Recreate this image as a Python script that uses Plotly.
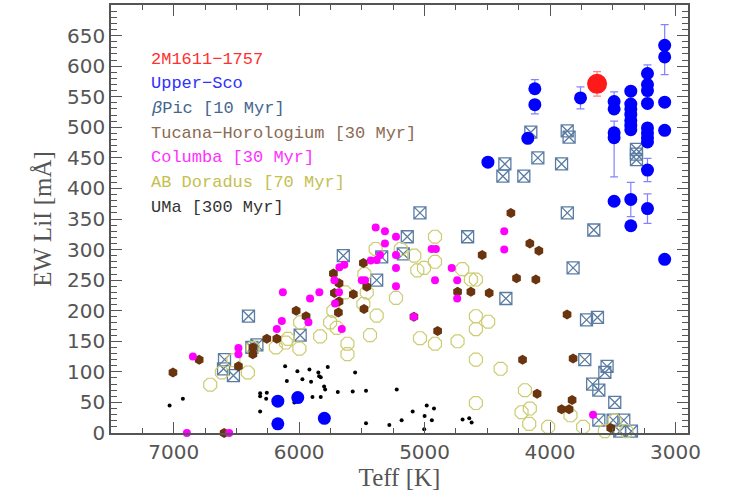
import plotly.graph_objects as go

# ---------------- data ----------------
target_teff = [3625]
target_ew = [571]
target_err = [20]

usco_teff = [3757, 3489, 3489, 3489, 3489, 3489,
             3356, 3356, 3356, 3356, 3356, 3356, 3356, 3356, 3356,
             3223, 3223, 3223, 3223, 3223, 3223, 3223, 3223, 3223, 3223,
             3086, 3086, 3086, 3086, 3086,
             6170, 6011, 6170, 5799,
             4495, 4177, 4121, 4121]
usco_ew = [548, 542, 530, 491, 483, 379,
           559, 538, 530, 521, 511, 503, 496, 382, 339,
           588, 570, 560, 539, 499, 491, 483, 476, 430, 367,
           634, 615, 541, 495, 284,
           52, 58, 15, 24,
           443, 482, 563, 537]
usco_errp = [18, 16, 0, 0, 27, 0,
             0, 0, 0, 0, 0, 0, 0, 28, 0,
             14, 0, 0, 0, 0, 0, 0, 0, 19, 24,
             34, 0, 0, 0, 0,
             0, 0, 0, 0,
             0, 0, 15, 0]
usco_errm = [18, 16, 0, 0, 64, 0,
             0, 0, 0, 0, 0, 0, 0, 28, 0,
             14, 0, 0, 0, 0, 0, 0, 0, 19, 24,
             0, 29, 0, 0, 0,
             0, 0, 0, 0,
             0, 0, 0, 15]

bpic_teff = [6404, 6337, 6377, 5992, 6595, 6603, 6524, 5648, 5037, 5138, 5342, 5170,
             5382, 4657, 4352, 3862, 3816, 3709, 3723, 3660, 3651, 3622, 3545, 3563,
             3611, 3484, 3611, 3497, 3412, 3351, 3444, 3863, 3848, 3311, 3311, 3311,
             3908, 4153, 4360, 4097, 4376, 4209]
bpic_ew = [191, 144, 140, 160, 120, 105, 94, 290, 360, 321, 288, 293,
           250, 321, 220, 360, 270, 185, 120, 80, 332, 189, 109, 99,
           70, 50, 21, 21, 21, 3, 3, 494, 484, 464, 456, 447,
           440, 492, 440, 450, 420, 420]

tuc_teff = [7006, 6797, 6484, 6369, 6369, 6258, 6178, 6024, 5945, 5727, 5682, 5719,
            5682, 5687, 6598, 4312, 4161, 4089, 4541, 4267, 4113, 4737, 4631, 4485,
            5488, 5568, 5461, 5483, 5085, 4896, 3864, 4219, 3816, 4103, 3824, 3908,
            3848, 3516]
tuc_ew = [99, 120, 109, 140, 129, 154, 154, 200, 191, 261, 245, 229,
          215, 197, 0, 360, 310, 298, 291, 253, 251, 231, 231, 229,
          278, 227, 239, 203, 190, 167, 194, 120, 122, 64, 54, 39,
          39, 8]

col_teff = [6130, 5913, 5839, 6138, 6178, 5926, 5660, 6484, 6484, 6847, 6895, 6558,
            5679, 5640, 5719, 5682, 5714, 5390, 5316, 5316, 5228, 4944, 4910, 4365,
            4365, 5355, 5429, 5382, 5228, 5228, 5501, 5475, 5228, 4917, 4784, 4740,
            4740, 5085, 3657]
col_ew = [230, 220, 230, 183, 170, 181, 170, 139, 129, 125, 0, 0,
          271, 275, 250, 230, 212, 336, 330, 310, 321, 301, 301, 330,
          300, 291, 282, 283, 291, 270, 250, 250, 240, 250, 270, 250,
          220, 190, 30]

abd_teff = [6709, 6616, 6524, 6409, 6369, 6186, 6106, 6090, 5998, 5992, 5833, 5753,
            5727, 5634, 5615, 5615, 5700, 4917, 4917, 5082, 5058, 5005, 5190, 5390,
            5480, 5461, 5488, 5382, 5228, 5435, 5037, 4917, 4737, 4700, 4631, 4591,
            4591, 4493, 4591, 4591, 4394, 4591, 4200, 4161, 4227, 4166, 4015, 3837,
            3736, 3484, 3563, 3391]
abd_ew = [79, 99, 119, 99, 139, 140, 148, 154, 138, 181, 158, 181,
          200, 230, 146, 129, 172, 321, 280, 290, 266, 270, 301, 301,
          260, 230, 211, 192, 221, 160, 155, 146, 150, 268, 251, 251,
          191, 182, 170, 120, 105, 49, 70, 40, 34, 15, 10, 29,
          10, 20, 3, 3]

uma_teff = [7033, 6927, 6112, 6014, 5918, 5847, 5772, 6098, 5974, 5905, 5841, 5828,
            5801, 5793, 5692, 6311, 6258, 6311, 6263, 6038, 5894, 5828, 6311, 5554,
            5573, 5467, 5222, 5467, 5281, 5183, 5095, 4983, 4925, 5000, 4942, 5003,
            4697, 4644, 4625]
uma_ew = [45, 56, 109, 101, 104, 99, 108, 85, 88, 84, 93, 91,
          76, 71, 67, 65, 66, 60, 56, 50, 59, 59, 35, 99,
          68, 69, 71, 16, 13, 21, 35, 45, 40, 28, 21, 6,
          22, 24, 17]

legend_labels = ["2M1611\u22121757", "Upper\u2212Sco", "<i>\u03b2</i>Pic [10 Myr]",
                 "Tucana\u2212Horologium [30 Myr]", "Columba [30 Myr]",
                 "AB Doradus [70 Myr]", "UMa [300 Myr]"]
legend_colors = ["#ff3030", "#3030ff", "#44668e", "#8a6a52", "#ff30ff", "#c4c050", "#333333"]

x_range = [7500, 2900]
y_range = [0, 700]
y_ticks = list(range(0, 700, 50))
x_ticks = [7000, 6000, 5000, 4000, 3000]

# ---------------- figure ----------------
fig = go.Figure()

fig.add_trace(go.Scatter(x=uma_teff, y=uma_ew, mode="markers", cliponaxis=False,
                         marker=dict(symbol="circle", size=4, color="black")))
fig.add_trace(go.Scatter(x=bpic_teff, y=bpic_ew, mode="markers", cliponaxis=False,
                         marker=dict(symbol="square-x-open", size=12, color="#5a7ca2",
                                     line=dict(color="#5a7ca2", width=1.3))))
fig.add_trace(go.Scatter(x=abd_teff, y=abd_ew, mode="markers", cliponaxis=False,
                         marker=dict(symbol="octagon-open", size=14, color="#cccc70",
                                     line=dict(color="#cccc70", width=1.2))))
fig.add_trace(go.Scatter(x=tuc_teff, y=tuc_ew, mode="markers", cliponaxis=False,
                         marker=dict(symbol="hexagon", size=10, color="#6a340e",
                                     line=dict(width=0))))
fig.add_trace(go.Scatter(x=col_teff, y=col_ew, mode="markers", cliponaxis=False,
                         marker=dict(symbol="circle", size=8, color="#ff00ff",
                                     line=dict(width=0))))
fig.add_trace(go.Scatter(x=usco_teff, y=usco_ew, mode="markers", cliponaxis=False,
                         error_y=dict(type="data", symmetric=False, array=usco_errp,
                                      arrayminus=usco_errm, color="rgba(90,90,255,0.75)",
                                      thickness=1.2, width=4),
                         marker=dict(symbol="circle", size=13, color="#0000ff",
                                     line=dict(width=0))))
fig.add_trace(go.Scatter(x=target_teff, y=target_ew, mode="markers", cliponaxis=False,
                         error_y=dict(type="data", array=target_err,
                                      color="rgba(255,90,90,0.75)", thickness=1.2, width=4),
                         marker=dict(symbol="circle", size=20, color="#ff1a1a",
                                     line=dict(width=0))))

for i, (lab, col) in enumerate(zip(legend_labels, legend_colors)):
    fig.add_annotation(text=lab, xref="paper", yref="paper", x=0.066,
                       y=0.873 - i * 0.0575, xanchor="left", yanchor="middle",
                       showarrow=False,
                       font=dict(family="Liberation Mono", size=17, color=col))

axis_common = dict(showline=True, linecolor="#555555", linewidth=1.5, mirror="allticks",
                   ticks="inside", tickcolor="#555555", ticklen=11, tickwidth=1.2,
                   showgrid=False, zeroline=False,
                   tickfont=dict(family="DejaVu Sans", size=20, color="#555555"),
                   title_font=dict(family="Liberation Serif", size=25, color="#555555"))

fig.update_xaxes(range=x_range, tickmode="array", tickvals=x_ticks,
                 title_text="Teff [K]", title_standoff=6,
                 minor=dict(tickmode="linear", tick0=3000, dtick=250, ticks="inside",
                            ticklen=5, tickcolor="#555555", tickwidth=1.2, showgrid=False),
                 **axis_common)
fig.update_yaxes(range=y_range, tickmode="array", tickvals=y_ticks,
                 title_text="EW LiI [mÅ]", title_standoff=8,
                 minor=dict(tickmode="linear", tick0=0, dtick=10, ticks="inside",
                            ticklen=6, tickcolor="#555555", tickwidth=1.2, showgrid=False),
                 **axis_common)

fig.update_layout(width=732, height=498, showlegend=False,
                  margin=dict(l=111, r=44, t=3, b=65),
                  plot_bgcolor="white", paper_bgcolor="white")

fig.write_html("out.html")
